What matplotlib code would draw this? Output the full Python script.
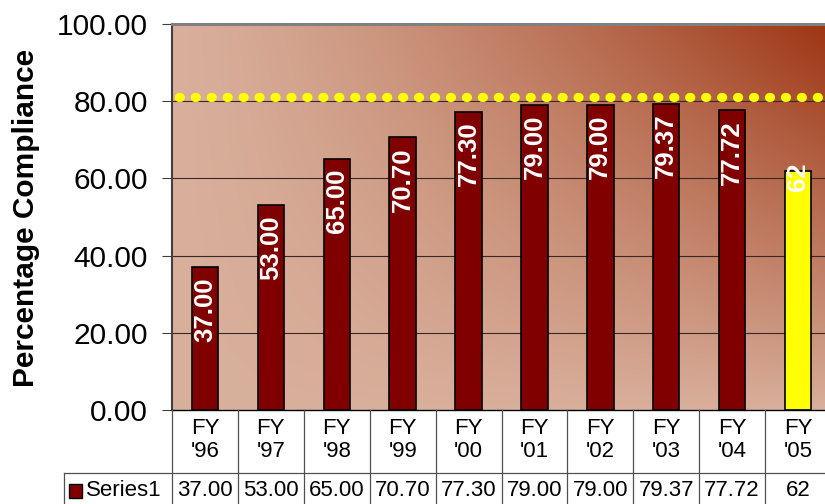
import numpy as np
import matplotlib
matplotlib.use("Agg")
import matplotlib.pyplot as plt
from matplotlib.lines import Line2D
from matplotlib.patches import Rectangle
from matplotlib.transforms import blended_transform_factory

# ---- data ----
categories = ["FY\n'96", "FY\n'97", "FY\n'98", "FY\n'99", "FY\n'00",
              "FY\n'01", "FY\n'02", "FY\n'03", "FY\n'04", "FY\n'05"]
values = [37.00, 53.00, 65.00, 70.70, 77.30, 79.00, 79.00, 79.37, 77.72, 62]
value_labels = ["37.00", "53.00", "65.00", "70.70", "77.30",
                "79.00", "79.00", "79.37", "77.72", "62"]
series_name = "Series1"
target = 81
yticks = [0, 20, 40, 60, 80, 100]

# ---- style ----
FONT = "Liberation Sans"
plt.rcParams["font.family"] = [FONT, "DejaVu Sans"]
bar_colors = ["#800000"] * 9 + ["#FFFF00"]
label_offsets_pt = [-7.2] * 9 + [5.8]

W, H = 825, 504
fig = plt.figure(figsize=(W / 100, H / 100), dpi=100)
fig.patch.set_facecolor("white")

L, R, T, B = 172, 831, 24, 410
ax = fig.add_axes([L / W, 1 - B / H, (R - L) / W, (B - T) / H])
n = len(values)
ax.set_xlim(-0.5, n - 0.5)
ax.set_ylim(0, 100)

# gradient background
nx, ny = 300, 200
u = np.linspace(0, 1, nx)[None, :]
v = np.linspace(1, 0, ny)[:, None]
d = np.clip((u ** 1.3) * (v ** 0.9), 0, 1)
light = np.array([217, 176, 156]) / 255
dark = np.array([156, 52, 18]) / 255
img = light[None, None, :] * (1 - d[..., None]) + dark[None, None, :] * d[..., None]
ax.imshow(img, extent=[-0.5, n - 0.5, 0, 100], aspect="auto", zorder=0,
          interpolation="bilinear")

# gridlines
for yt in yticks[1:-1]:
    ax.axhline(yt, color="#3a2828", lw=0.8, zorder=1)

# bars
x = np.arange(n)
ax.bar(x, values, width=0.4, color=bar_colors, edgecolor="black",
       linewidth=1.2, zorder=3)

# target dotted line
ax.axhline(target, color="#FFFF00", lw=6.6, linestyle=(1.0, (0.12, 1.62)),
           dash_capstyle="round", zorder=4)

# bar labels
for xi, val, lab, off in zip(x, values, value_labels, label_offsets_pt):
    ax.annotate(lab, xy=(xi, val), xytext=(0, off), textcoords="offset points",
                rotation=90, ha="center", va="top", color="white",
                fontsize=18.5, fontweight="bold", zorder=5)

# axes styling
ax.set_yticks(yticks)
ax.set_yticklabels([f"{t:.2f}" for t in yticks], fontsize=21.5)
ax.tick_params(axis="y", length=7.2, width=0.8, color="#404040", pad=10)
ax.set_xticks([])
ax.spines["left"].set_color("#404040")
ax.spines["left"].set_linewidth(1.5)
ax.spines["top"].set_color("#808080")
ax.spines["top"].set_linewidth(2.2)
ax.spines["right"].set_visible(False)
ax.spines["bottom"].set_color("black")
ax.spines["bottom"].set_linewidth(1.0)
ax.spines["bottom"].set_zorder(6)

fig.text(26 / W, 1 - 218 / H, "Percentage Compliance", rotation=90,
         ha="center", va="center", fontsize=21.5, fontweight="bold")

# ---- data table ----
tr = blended_transform_factory(ax.transData, fig.transFigure)
def fy(py):
    return 1 - py / H

line_col = "#505050"
for i in range(n + 1):
    fig.add_artist(Line2D([i - 0.5, i - 0.5], [fy(410), fy(506)], transform=tr,
                          color=line_col, lw=0.9, clip_on=False))
fig.add_artist(Line2D([64 / W, 1], [fy(473), fy(473)], transform=fig.transFigure,
                      color=line_col, lw=0.9))
fig.add_artist(Line2D([64 / W, 64 / W], [fy(473), fy(506)], transform=fig.transFigure,
                      color=line_col, lw=0.9))

for xi, cat, lab in zip(x, categories, value_labels):
    fig.text(xi, fy(440), cat, transform=tr, ha="center", va="center",
             multialignment="center", fontsize=16, linespacing=1.15)
    fig.text(xi, fy(490), lab, transform=tr, ha="center", va="center",
             fontsize=16)

fig.add_artist(Rectangle((69 / W, fy(498)), 13 / W, 14 / H, transform=fig.transFigure,
                         facecolor="#800000", edgecolor="black", lw=1.0))
fig.text(86 / W, fy(490), series_name, ha="left", va="center", fontsize=16)

fig.savefig("out.png", dpi=100)
